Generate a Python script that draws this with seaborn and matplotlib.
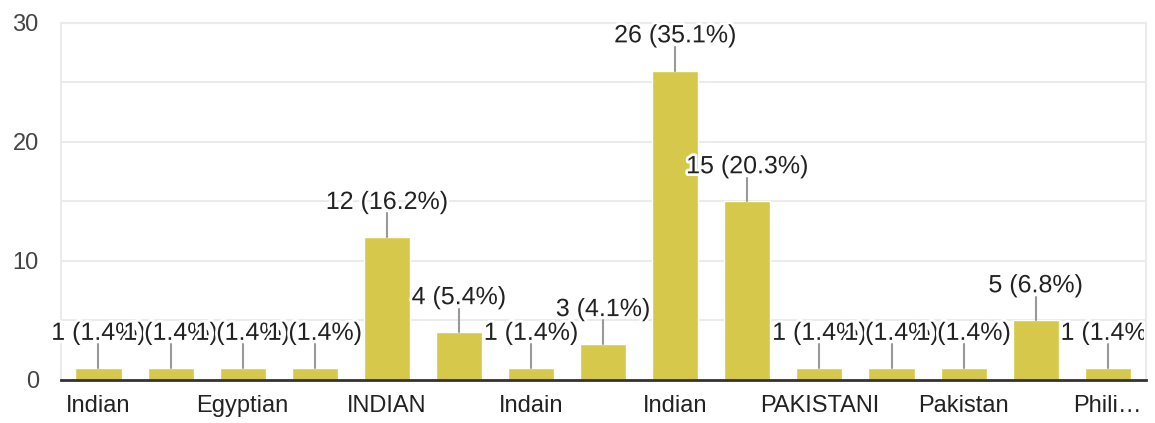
import numpy as np
import matplotlib
matplotlib.use("Agg")
import matplotlib.pyplot as plt
import matplotlib.patheffects as pe
from matplotlib.patches import Rectangle
import seaborn as sns

# answers as typed in the form (only every other label is shown on the axis)
categories = ["Indian", "indian", "Egyptian", "Indian ", "INDIAN", "India",
              "Indain", "indian ", "Indian", "Pakistani", "PAKISTANI", "pakistani",
              "Pakistan", "Filipino", "Philippines"]
counts = [1, 1, 1, 1, 12, 4, 1, 3, 26, 15, 1, 1, 1, 5, 1]
tick_labels = ["Indian", "", "Egyptian", "", "INDIAN", "", "Indain", "",
               "Indian", "", "PAKISTANI", "", "Pakistan", "", "Phili…"]

bar_color = "#d6c84a"

sns.set_style("white")
plt.rcParams['font.family'] = ['Liberation Sans', 'DejaVu Sans']

fig = plt.figure(figsize=(11.55, 4.23), dpi=100)
ax = fig.add_axes([61 / 1155, 0.1017, 1085 / 1155, 0.844])

pos = np.arange(len(counts))
sns.barplot(x=pos, y=counts, color=bar_color, width=0.64, saturation=1, ax=ax)

# labels get clipped at the right edge of the chart area, like the original
clip = Rectangle((0, 0), 1144 / 1155, 1, transform=fig.transFigure, visible=False)
fig.add_artist(clip)

total = sum(counts)
for i, c in enumerate(counts):
    ax.plot([i, i], [c, c + 2.0], color="#999999", lw=1.5, zorder=3)
    t = ax.text(i, c + 1.95, f"{c} ({c / total * 100:.1f}%)", ha="center", va="bottom",
                fontsize=18, color="#222222", zorder=4,
                path_effects=[pe.withStroke(linewidth=4, foreground="white")])
    t.set_clip_on(True)
    t.set_clip_path(clip)

ax.set_ylim(0, 30)
ax.set_xlim(-0.52, len(counts) - 0.47)
ax.set_yticks([0, 10, 20, 30])
ax.set_yticks([5, 15, 25], minor=True)
ax.grid(axis="y", which="both", color="#ebebeb", lw=1.5)
ax.set_axisbelow(True)
ax.tick_params(axis="y", which="both", length=0, labelsize=17, labelcolor="#444444", pad=16)
ax.tick_params(axis="x", length=0, labelsize=17, labelcolor="#222222", pad=11)
ax.set_xticks(pos)
ax.set_xticklabels(tick_labels)

for s in ["left", "right", "top"]:
    ax.spines[s].set_color("#ebebeb")
    ax.spines[s].set_linewidth(1.5)
ax.spines["bottom"].set_color("#333333")
ax.spines["bottom"].set_linewidth(2)
ax.spines["bottom"].set_zorder(5)

fig.savefig("out.png", dpi=100)
